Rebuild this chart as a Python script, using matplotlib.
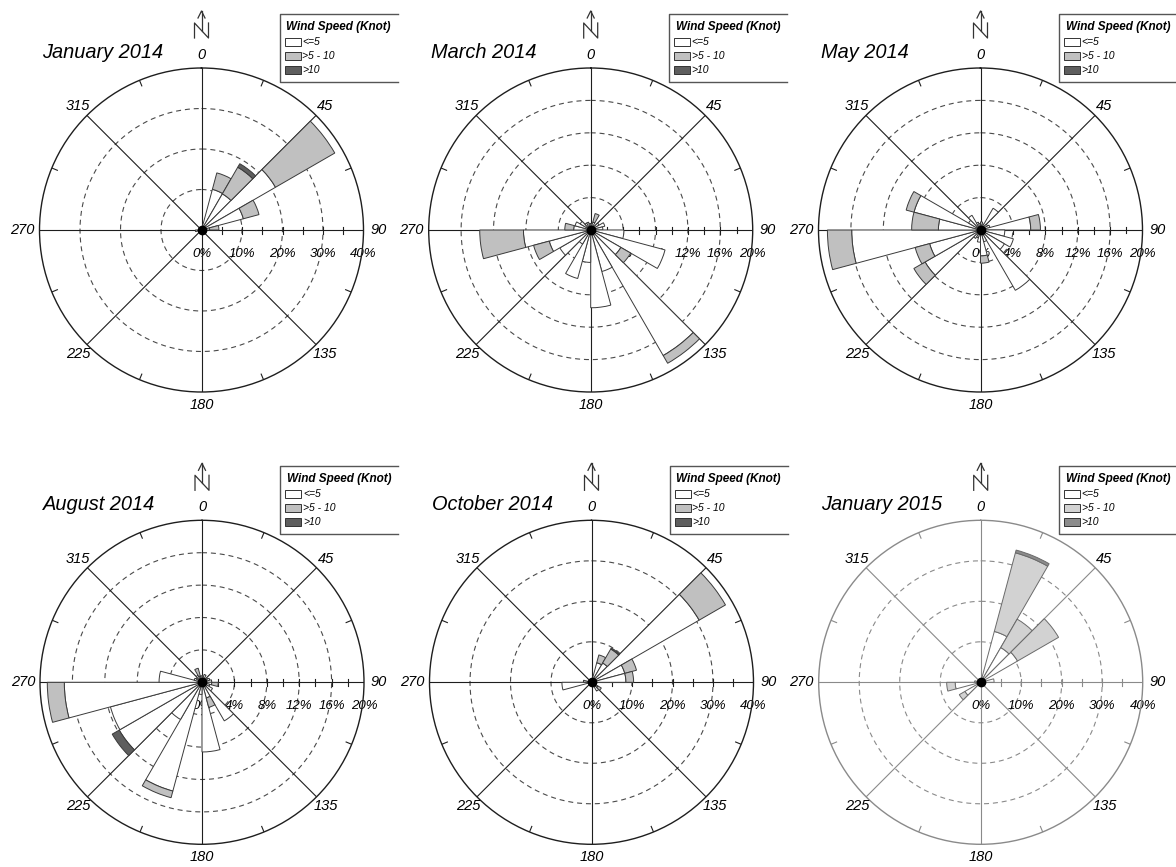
#!/usr/bin/env python3
import numpy as np
import matplotlib
matplotlib.use('Agg')
import matplotlib.pyplot as plt
from matplotlib.transforms import ScaledTranslation
from matplotlib.patches import Rectangle

plt.rcParams['font.family'] = ['Liberation Sans', 'DejaVu Sans']

W, H = 1176, 867
R_PX = 162  # radius of each rose in pixels

# 24 direction sectors of 15 degrees (bearing of the sector start)
sector_start = np.arange(0, 360, 15)
speed_classes = ['<=5', '>5 - 10', '>10']

# frequency (%) per sector, one list per wind speed class
jan14_low = [0.4, 10.4, 10.3, 21.1, 10.7, 2.0, 0.4, 0.3, 0.3, 0.3, 0.3, 0.3,
             0.3, 0.3, 0.3, 0.3, 0.4, 1.5, 0.5, 0.3, 0.3, 0.3, 0.3, 0.4]
jan14_mid = [0, 4.2, 7.6, 16.9, 4.0, 2.3, 0, 0, 0, 0, 0, 0,
             0, 0, 0, 0, 0, 0, 0, 0, 0, 0, 0, 0]
jan14_high = [0, 0, 1.0, 0, 0, 0, 0, 0, 0, 0, 0, 0,
              0, 0, 0, 0, 0, 0, 0, 0, 0, 0, 0, 0]

mar14_low = [0.8, 1.0, 0.6, 1.2, 1.8, 1.5, 4.1, 9.5, 4.3, 17.9, 5.3, 9.6,
             4.0, 6.2, 2.0, 4.4, 5.3, 8.3, 2.1, 2.0, 1.5, 1.0, 1.0, 0.8]
mar14_mid = [0, 1.1, 0, 0, 0, 0, 0, 0, 1.4, 1.1, 0, 0,
             0, 0, 0, 0, 2.0, 5.4, 1.1, 0, 0, 0, 0, 0]
mar14_high = [0] * 24

may14_low = [1.0, 0.8, 3.1, 1.0, 1.2, 6.2, 3.0, 4.2, 3.4, 8.6, 1.5, 3.2,
             1.5, 1.0, 1.2, 7.9, 6.5, 15.9, 5.2, 8.5, 1.7, 2.1, 1.0, 0.8]
may14_mid = [0, 0, 0, 0, 0, 1.2, 0, 0, 0, 0, 0, 0.9,
             0, 0, 0, 1.6, 1.85, 3.0, 3.3, 1.0, 0, 0, 0, 0]
may14_high = [0] * 24

aug14_low = [0.8, 1.0, 0.6, 0.8, 1.0, 1.2, 1.2, 1.0, 1.5, 5.5, 2.0, 8.6,
             1.5, 13.9, 5.3, 11.8, 11.7, 17.0, 5.3, 1.0, 0.8, 1.0, 0.8, 0.8]
aug14_mid = [0, 0, 0, 0, 0, 0, 0.8, 0, 0, 0, 1.2, 0,
             0, 0.85, 0, 0, 0, 2.1, 0, 0, 0, 0, 1.0, 0]
aug14_high = [0, 0, 0, 0, 0, 0, 0, 0, 0, 0, 0, 0,
              0, 0, 0, 1.0, 0, 0, 0, 0, 0, 0, 0, 0]

oct14_low = [0.8, 5.0, 5.5, 30.7, 8.5, 8.5, 1.0, 1.0, 1.8, 2.5, 1.0, 0.8,
             0.5, 0.5, 0.5, 0.5, 0.5, 7.3, 1.0, 0.5, 0.5, 0.5, 0.5, 0.5]
oct14_mid = [0, 2.0, 4.0, 7.5, 3.0, 1.9, 0, 0, 1.0, 0, 0, 0,
             0, 0, 0, 0, 0, 0, 1.0, 0, 0, 0, 0, 0]
oct14_high = [0, 0, 0.3, 0, 0, 0, 0, 0, 0, 0, 0, 0,
              0, 0, 0, 0, 0, 0, 0, 0, 0, 0, 0, 0]

jan15_low = [0.5, 13.0, 9.9, 10.5, 0.5, 3.3, 0.5, 0.5, 0.5, 0.5, 0.5, 0.5,
             0.5, 0.5, 0.5, 4.5, 1.0, 6.3, 1.5, 0.5, 0.5, 0.5, 0.5, 0.5]
jan15_mid = [0, 20.1, 8.1, 11.7, 0, 0, 0, 0, 0, 0, 0, 0,
             0, 0, 0, 1.6, 0, 2.1, 0, 0, 0, 0, 0, 0]
jan15_high = [0, 0.7, 0, 0, 0, 0, 0, 0, 0, 0, 0, 0,
              0, 0, 0, 0, 0, 0, 0, 0, 0, 0, 0, 0]

titles = ['January 2014', 'March 2014', 'May 2014',
          'August 2014', 'October 2014', 'January 2015']
scales = [40, 20, 20, 20, 40, 40]  # outer ring in %

# rose centres in pixels (x from left, y from top)
centres = [(201.5, 230), (590.7, 230), (980.5, 230),
           (202.0, 682.3), (591.5, 682.3), (980.7, 682.3)]

dark_style = dict(line='#1e1e1e', ring='#4a4a4a', edge='#3a3a3a',
                  fills=['white', '#c0c0c0', '#5e5e5e'])
light_style = dict(line='#8a8a8a', ring='#8a8a8a', edge='#6a6a6a',
                   fills=['white', '#d2d2d2', '#8c8c8c'])

fig = plt.figure(figsize=(W / 100, H / 100), dpi=100)


def draw_rose(cx, cy, low, mid, high, rmax, st):
    ax = fig.add_axes([(cx - R_PX) / W, (H - cy - R_PX) / H,
                       2 * R_PX / W, 2 * R_PX / H], projection='polar')
    ax.set_theta_zero_location('N')
    ax.set_theta_direction(-1)
    ax.set_ylim(0, rmax)
    ax.set_xticks([])
    ax.set_yticks([])
    ax.spines['polar'].set_color(st['line'])
    ax.spines['polar'].set_linewidth(1.0)

    if rmax == 40:
        rings, minor = [10, 20, 30], 5
    else:
        rings, minor = [4, 8, 12, 16], 2

    t = np.linspace(0, 2 * np.pi, 361)
    for r in rings:
        ax.plot(t, np.full_like(t, r), color=st['ring'], lw=0.8,
                ls=(0, (4.5, 3.5)), zorder=1)

    # spokes every 45 degrees
    for b in range(0, 360, 45):
        ax.plot([np.deg2rad(b)] * 2, [0, rmax], color=st['line'], lw=0.8, zorder=1.5)
    # short marks on the rim between spokes
    for b in np.arange(22.5, 360, 45):
        ax.plot([np.deg2rad(b)] * 2, [rmax * (1 - 6 / R_PX), rmax],
                color=st['line'], lw=0.8, zorder=1.5)
    # minor ticks across the east axis
    for r in np.arange(minor, rmax, minor):
        rp = r / rmax * R_PX
        d = np.arctan(3.5 / rp)
        rr = np.hypot(rp, 3.5) / R_PX * rmax
        ax.plot([np.pi / 2 - d, np.pi / 2 + d], [rr, rr], color=st['line'],
                lw=0.8, zorder=1.5)

    # percentage labels under the east axis (bars cover them)
    off = ScaledTranslation(0, -24 / 100, fig.dpi_scale_trans)
    for r in range(0, rmax + 1, rings[0]):
        ax.text(np.pi / 2, r, f'{r}%', transform=ax.transData + off,
                ha='center', va='center', fontsize=9.5, style='italic',
                zorder=1.2)

    # direction labels outside the rim
    for b in range(0, 360, 45):
        f = {90: 1.093, 270: 1.105}.get(b, 1.08)
        ax.text(np.deg2rad(b), rmax * f, str(b), ha='center', va='center',
                fontsize=10.5, style='italic')

    # stacked bars per speed class
    theta = np.deg2rad(sector_start + 7.5)
    width = np.deg2rad(15)
    base = np.zeros(24)
    for vals, fc in zip([low, mid, high], st['fills']):
        vals = np.asarray(vals, dtype=float)
        m = vals > 0
        ax.bar(theta[m], vals[m], width=width, bottom=base[m], color=fc,
               edgecolor=st['edge'], linewidth=0.7, zorder=3)
        base = base + vals

    ax.plot([0], [0], 'o', color='black', ms=6, zorder=4)
    return ax


all_low = [jan14_low, mar14_low, may14_low, aug14_low, oct14_low, jan15_low]
all_mid = [jan14_mid, mar14_mid, may14_mid, aug14_mid, oct14_mid, jan15_mid]
all_high = [jan14_high, mar14_high, may14_high, aug14_high, oct14_high, jan15_high]

for i in range(6):
    st = light_style if i == 5 else dark_style
    cx, cy = centres[i]
    draw_rose(cx, cy, all_low[i], all_mid[i], all_high[i], scales[i], st)

# overlay in pixel coordinates for titles, legends and north arrows
ov = fig.add_axes([0, 0, 1, 1])
ov.set_xlim(0, W)
ov.set_ylim(H, 0)
ov.axis('off')

for i in range(6):
    st = light_style if i == 5 else dark_style
    cx, cy = centres[i]
    ov.text(cx - 159.5, cy - 172, titles[i], fontsize=14.4, style='italic',
            ha='left', va='baseline')

    # north arrow
    ov.plot([cx - 7, cx - 7, cx + 7, cx + 7], [cy - 192, cy - 207, cy - 192, cy - 207],
            color='#333333', lw=0.9)
    ov.plot([cx, cx], [cy - 199, cy - 219], color='#333333', lw=0.9)
    ov.plot([cx - 3.5, cx, cx + 3.5], [cy - 212, cy - 219, cy - 212],
            color='#333333', lw=0.9)

    # legend box, cut off at the edge of the cell
    left, top, bot = cx + 78, cy - 216, cy - 148
    right = min(cx + 196, W)
    ov.plot([right, left, left, right], [top, top, bot, bot], color='#555555', lw=1.0)
    ov.text(cx + 85, cy - 203, 'Wind Speed (Knot)', fontsize=8.5,
            weight='bold', style='italic', ha='left', va='center')
    for k, (lab, fc) in enumerate(zip(speed_classes, st['fills'])):
        yy = cy - 188.3 + 14.2 * k
        ov.add_patch(Rectangle((cx + 83, yy - 4), 16, 8, facecolor=fc,
                               edgecolor='#333333', lw=0.7))
        ov.text(cx + 101, yy, lab, fontsize=7.5, style='italic',
                ha='left', va='center')

fig.savefig('out.png', dpi=100, facecolor='white')
